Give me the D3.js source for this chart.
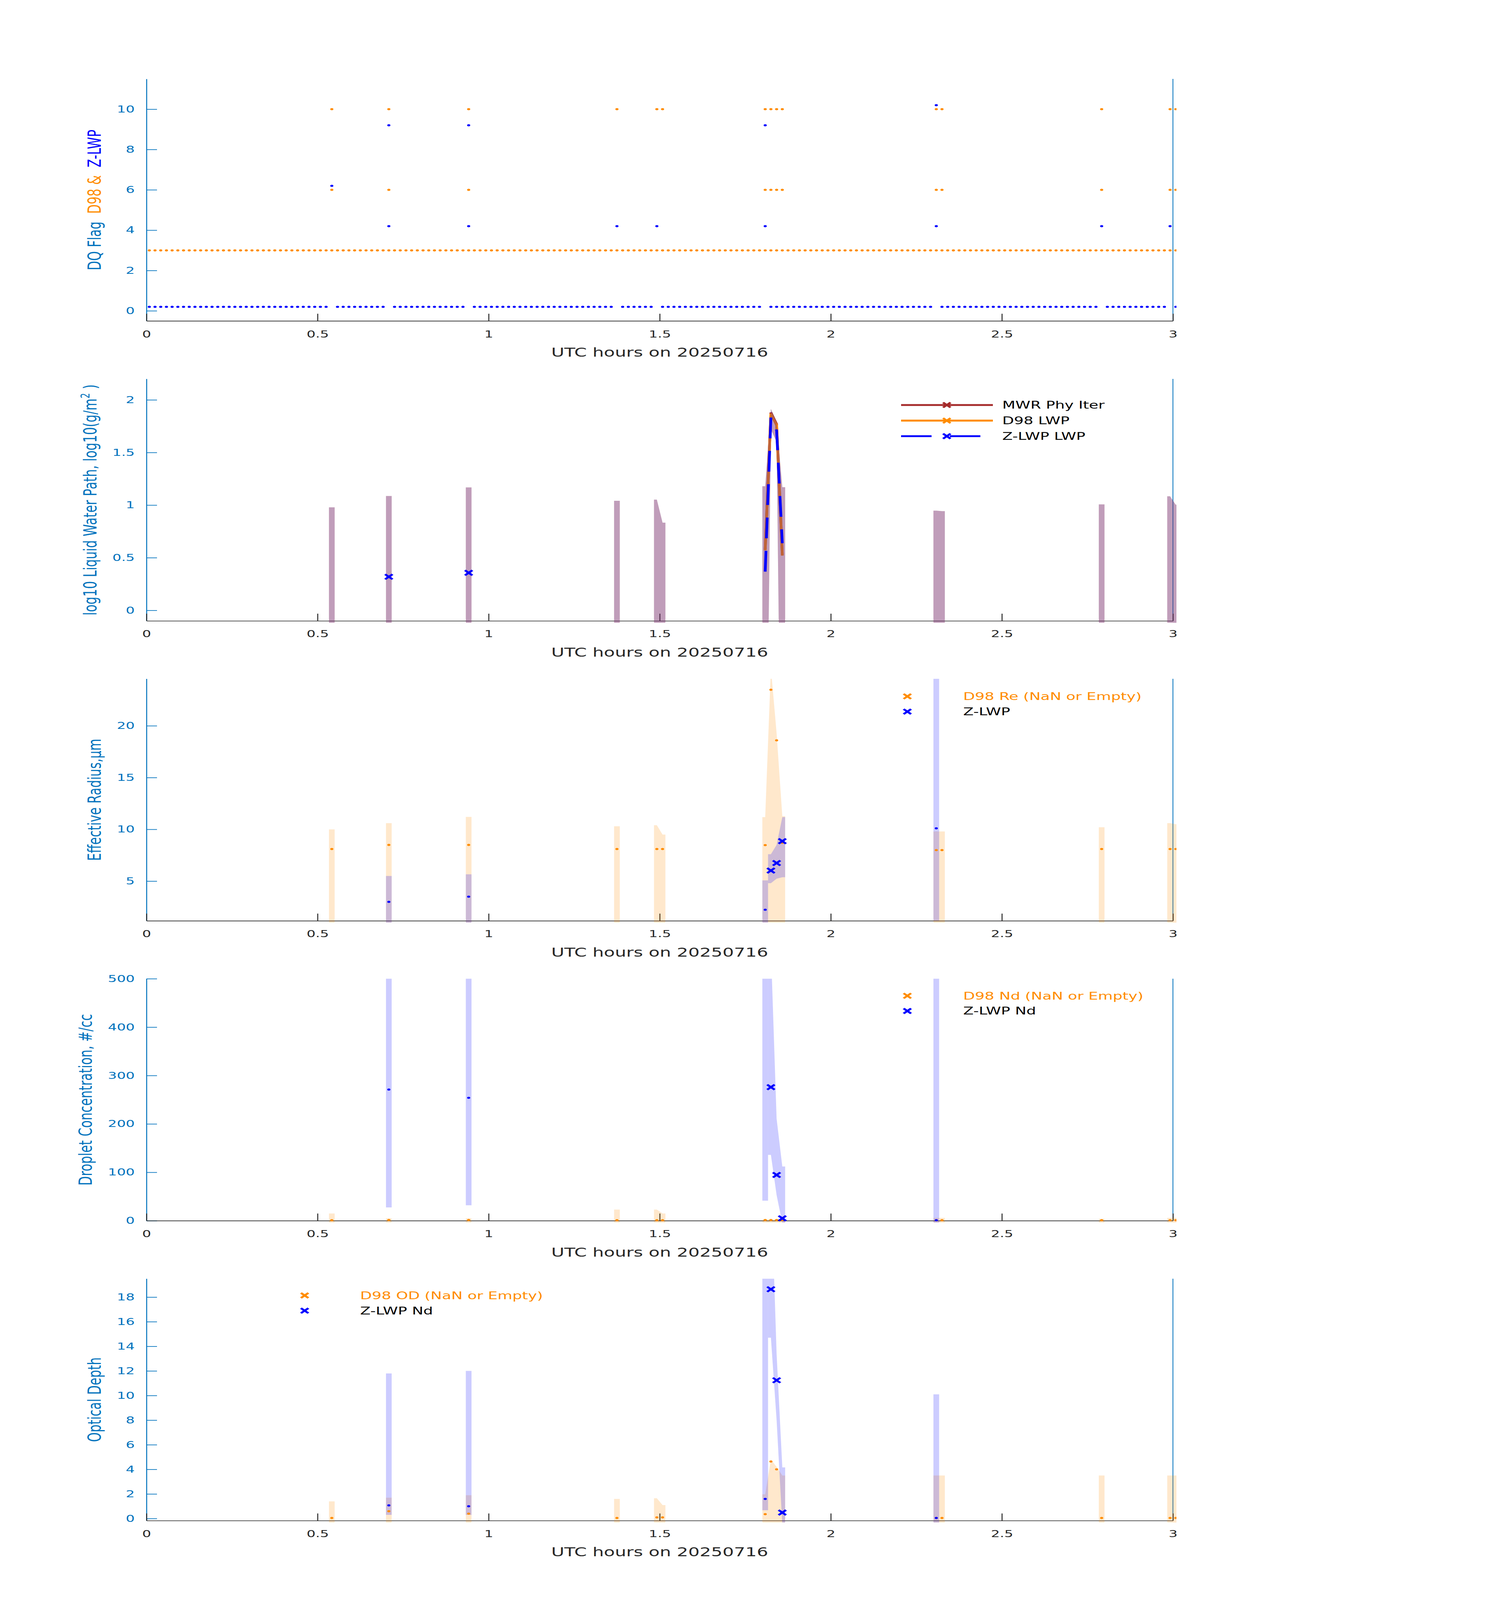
<!DOCTYPE html>
<html><head><meta charset="utf-8">
<script src="https://cdn.jsdelivr.net/npm/d3@7"></script>
<style>html,body{margin:0;padding:0;background:#fff;overflow:hidden;width:100%;height:100%}svg{display:block}</style>
</head><body>
<svg id="chart" viewBox="0 0 3825 6000" preserveAspectRatio="none" style="width:100vw;height:100vh" xmlns="http://www.w3.org/2000/svg"></svg>
<script>
// ================= DATA =================
// 1-minute samples (minutes after 00 UTC), centred on the half-minute
const sampleMinutes = d3.range(181).map(k => k + 0.5);

// Panel 1: data-quality flags
const zlwpFlag = [
  0,0,0,0,0,0,0,0,0,0,0,0,0,0,0,0,0,0,0,0,
  0,0,0,0,0,0,0,0,0,0,0,0,6,0,0,0,0,0,0,0,
  0,0,9,0,0,0,0,0,0,0,0,0,0,0,0,0,9,0,0,0,
  0,0,0,0,0,0,0,0,0,0,0,0,0,0,0,0,0,0,0,0,
  0,0,4,0,0,0,0,0,0,4,0,0,0,0,0,0,0,0,0,0,
  0,0,0,0,0,0,0,0,9,0,0,0,0,0,0,0,0,0,0,0,
  0,0,0,0,0,0,0,0,0,0,0,0,0,0,0,0,0,0,10,0,
  0,0,0,0,0,0,0,0,0,0,0,0,0,0,0,0,0,0,0,0,
  0,0,0,0,0,0,0,4,0,0,0,0,0,0,0,0,0,0,0,4,
  0];
const zlwpFlagExtra = [[42.5,4],[56.5,4],[108.5,4],[138.5,4]];
const d98Flag = [
  3,3,3,3,3,3,3,3,3,3,3,3,3,3,3,3,3,3,3,3,
  3,3,3,3,3,3,3,3,3,3,3,3,3,3,3,3,3,3,3,3,
  3,3,3,3,3,3,3,3,3,3,3,3,3,3,3,3,3,3,3,3,
  3,3,3,3,3,3,3,3,3,3,3,3,3,3,3,3,3,3,3,3,
  3,3,3,3,3,3,3,3,3,3,3,3,3,3,3,3,3,3,3,3,
  3,3,3,3,3,3,3,3,3,3,3,3,3,3,3,3,3,3,3,3,
  3,3,3,3,3,3,3,3,3,3,3,3,3,3,3,3,3,3,3,3,
  3,3,3,3,3,3,3,3,3,3,3,3,3,3,3,3,3,3,3,3,
  3,3,3,3,3,3,3,3,3,3,3,3,3,3,3,3,3,3,3,3,
  3];
const d98FlagExtra = [[32.5,10],[32.5,6],[42.5,10],[42.5,6],[56.5,10],[56.5,6],[82.5,10],
  [89.5,10],[90.5,10],[108.5,10],[108.5,6],[109.5,10],[109.5,6],[110.5,10],[110.5,6],
  [111.5,10],[111.5,6],[138.5,10],[138.5,6],[139.5,10],[139.5,6],[167.5,10],[167.5,6],
  [179.5,10],[179.5,6],[180.5,10],[180.5,6]];

// Retrieval times (minutes)
const d98Times      = [32.5, 42.5, 56.5, 82.5, 89.5, 90.5, 108.5, 109.5, 110.5, 111.5, 138.5, 139.5, 167.5, 179.5, 180.5];
const zFlaggedTimes = [42.5, 56.5, 108.5, 138.5];
const zGoodTimes    = [109.5, 110.5, 111.5];
const lwpLineTimes  = [108.5, 109.5, 110.5, 111.5];
const zLwpIsoTimes  = [42.5, 56.5];

// Panel 2: log10 LWP
const lwpBandHi = [0.979, 1.087, 1.168, 1.041, 1.052, 0.833, 1.18, 1.915, 1.79, 1.17, 0.948, 0.943, 1.007, 1.084, 1.003];
const lwpBandLo = [-3, -3, -3, -3, -3, -3, -3, 1.72, 1.6, -3, -3, -3, -3, -3, -3];
const mwrLwp = [0.58, 1.88, 1.77, 0.53];
const d98Lwp = [0.57, 1.87, 1.76, 0.52];
const zLwp   = [0.368, 1.833, 1.71, 0.638];
const zLwpIso = [0.319, 0.357];

// Panel 3: effective radius (um)
const reD98   = [8.1, 8.5, 8.5, 8.1, 8.1, 8.1, 8.48, 23.48, 18.6, 8.7, 8.0, 8.0, 8.1, 8.1, 8.1];
const reD98Hi = [10.0, 10.6, 11.2, 10.3, 10.4, 9.5, 11.19, 25.6, 19.3, 11.27, 9.8, 9.8, 10.2, 10.6, 10.5];
const reD98Lo = [0, 0, 0, 0, 0, 0, 0, 0, 0, 0, 0, 0, 0, 0, 0];
const reZFlag   = [3.0, 3.5, 2.24, 10.1];
const reZFlagHi = [5.5, 5.66, 5.07, 30];
const reZFlagLo = [0, 0, 0, 1.2];
const reZGood   = [6.02, 6.75, 8.86];
const reZGoodHi = [7.6, 8.5, 11.19];
const reZGoodLo = [4.8, 5.23, 5.38];

// Panel 4: droplet concentration (#/cc)
const ndD98   = [1, 1.5, 1.5, 1, 1, 1, 1.5, 1.5, 1.5, 1.5, 1, 1, 1, 1, 1];
const ndD98Hi = [15, 5, 5, 23, 23, 15, 3, 3, 3, 3, 6, 6, 4, 6, 6];
const ndD98Lo = [-5, -5, -5, -5, -5, -5, -5, -5, -5, -5, -5, -5, -5, -5, -5];
const ndZFlag   = [271, 254, null, 1];
const ndZFlagHi = [600, 600, 600, 600];
const ndZFlagLo = [27.5, 32, 41.5, -10];
const ndZGood   = [276, 94.6, 5];
const ndZGoodHi = [564, 211, 112];
const ndZGoodLo = [136, 53, -5];

// Panel 5: optical depth
const odD98   = [0.05, 0.6, 0.4, 0.05, 0.1, 0.1, 0.36, 4.64, 4.0, 0.5, 0.05, 0.05, 0.05, 0.05, 0.05];
const odD98Hi = [1.4, 1.7, 1.9, 1.6, 1.65, 1.1, 1.97, 4.8, 4.2, 3.5, 3.5, 3.5, 3.5, 3.5, 3.5];
const odD98Lo = [-1, -1, -1, -1, -1, -1, -1, -1, -1, -1, -1, -1, -1, -1, -1];
const odZFlag   = [1.07, 1.0, 1.6, 0.05];
const odZFlagHi = [11.8, 12.0, 25, 10.1];
const odZFlagLo = [0.3, 0.3, 0.68, -1];
const odZGood   = [18.64, 11.24, 0.49];
const odZGoodHi = [27.6, 13.4, 4.16];
const odZGoodLo = [14.7, 8.0, -0.5];

// Ticks
const xTicks    = [0, 0.5, 1, 1.5, 2, 2.5, 3];
const flagTicks = [0, 2, 4, 6, 8, 10];
const lwpTicks  = [0, 0.5, 1, 1.5, 2];
const reTicks   = [5, 10, 15, 20];
const ndTicks   = [0, 100, 200, 300, 400, 500];
const odTicks   = [0, 2, 4, 6, 8, 10, 12, 14, 16, 18];

// ================= STYLE / LAYOUT =================
const FONT = "'DejaVu Sans', sans-serif";
const AX_BLUE = '#0072BD', DARK = '#262626';
const ORANGE = '#FF8C00', BLUE = '#0000FF', BROWN = '#A52A2A';
const X0 = 375, X1 = 3003, PH = 907.5;
const panelTop = i => 296 + 1124.75 * i;
const XLABEL = 'UTC hours on 20250716';

const svg = d3.select('#chart');
svg.append('rect').attr('width', 3825).attr('height', 6000).attr('fill', '#fff');
const defs = svg.append('defs');

function makePanel(i, yDomain, ticks) {
  const top = panelTop(i), bottom = top + PH;
  const g = svg.append('g');
  const x = d3.scaleLinear().domain([0, 3]).range([X0, X1]);
  const y = d3.scaleLinear().domain(yDomain).range([bottom, top]);
  const id = 'clip' + i;
  defs.append('clipPath').attr('id', id).append('rect')
    .attr('x', X0).attr('y', top).attr('width', X1 - X0 + 9).attr('height', PH + 7);

  const ya = g.append('g').attr('transform', `translate(${X0},0)`)
    .call(d3.axisLeft(y).tickValues(ticks).tickFormat(d3.format('~g'))
      .tickSizeInner(-27).tickSizeOuter(0).tickPadding(30));
  ya.style('color', AX_BLUE).attr('font-size', 36).attr('font-family', FONT);
  ya.selectAll('path,line').attr('stroke-width', 2.5);

  g.append('line').attr('x1', X1).attr('x2', X1).attr('y1', top).attr('y2', bottom)
    .attr('stroke', AX_BLUE).attr('stroke-width', 2);

  const xa = g.append('g').attr('transform', `translate(0,${bottom})`)
    .call(d3.axisBottom(x).tickValues(xTicks).tickFormat(d3.format('~g'))
      .tickSizeInner(-27).tickSizeOuter(0).tickPadding(36));
  xa.style('color', DARK).attr('font-size', 36).attr('font-family', FONT);
  xa.selectAll('path,line').attr('stroke-width', 2.5);

  g.append('text').attr('x', (X0 + X1) / 2).attr('y', bottom + 134)
    .attr('text-anchor', 'middle').attr('font-family', FONT).attr('font-size', 46)
    .attr('fill', DARK).text(XLABEL);

  let maxW = 0;
  ya.selectAll('text').each(function () { maxW = Math.max(maxW, this.getBBox().width); });
  const labelX = X0 - 30 - maxW - 41;
  const ylab = g.append('text')
    .attr('transform', `translate(${labelX},${(top + bottom) / 2}) rotate(-90)`)
    .attr('text-anchor', 'middle').attr('font-family', FONT).attr('font-size', 46)
    .attr('fill', AX_BLUE);

  const plot = g.append('g').attr('clip-path', `url(#${id})`);
  return { g, x, y, plot, top, bottom, ylab };
}

function drawBand(plot, x, y, times, lo, hi, color) {
  const pts = times.map((t, i) => ({ t, lo: lo[i], hi: hi[i] }))
    .filter(d => d.lo != null && d.hi != null);
  const runs = [];
  pts.forEach((d, i) => {
    if (i > 0 && Math.abs(d.t - pts[i - 1].t - 1) < 1e-6) runs[runs.length - 1].push(d);
    else runs.push([d]);
  });
  const area = d3.area().x(d => x(d.t / 60)).y0(d => y(d.lo)).y1(d => y(d.hi));
  runs.forEach(run => {
    const f = run[0], l = run[run.length - 1];
    const verts = [{ ...f, t: f.t - 0.5 }, ...run, { ...l, t: l.t + 0.5 }];
    plot.append('path').attr('d', area(verts)).attr('fill', color).attr('fill-opacity', 0.2);
  });
}

function drawDots(plot, x, y, times, vals, color, offset = 0) {
  plot.append('g').selectAll('circle')
    .data(times.map((t, i) => ({ t, v: vals[i] })).filter(d => d.v != null))
    .join('circle')
    .attr('cx', d => x(d.t / 60)).attr('cy', d => y(d.v + offset)).attr('r', 4).attr('fill', color);
}

function xPath(cx, cy, s = 9.5) {
  return `M${cx - s},${cy - s}L${cx + s},${cy + s}M${cx - s},${cy + s}L${cx + s},${cy - s}`;
}
function drawX(plot, x, y, times, vals, color) {
  plot.append('g').selectAll('path')
    .data(times.map((t, i) => ({ t, v: vals[i] })).filter(d => d.v != null))
    .join('path')
    .attr('d', d => xPath(x(d.t / 60), y(d.v)))
    .attr('stroke', color).attr('stroke-width', 6.5).attr('fill', 'none');
}

function legendX(g, lx, ly, tx, items) {
  items.forEach((it, i) => {
    const yy = ly + i * 57;
    g.append('path').attr('d', xPath(lx, yy)).attr('stroke', it.color)
      .attr('stroke-width', 6.5).attr('fill', 'none');
    g.append('text').attr('x', tx).attr('y', yy).attr('dy', '0.35em')
      .attr('font-family', FONT).attr('font-size', 39).attr('fill', it.textColor).text(it.label);
  });
}

// ================= PANEL 1 =================
{
  const p = makePanel(0, [-0.5, 11.5], flagTicks);
  p.ylab.append('tspan').attr('fill', AX_BLUE).text('DQ Flag\u00A0\u00A0');
  p.ylab.append('tspan').attr('fill', ORANGE).text('D98 &\u00A0\u00A0');
  p.ylab.append('tspan').attr('fill', BLUE).text('Z-LWP');
  drawDots(p.plot, p.x, p.y, sampleMinutes, d98Flag, ORANGE);
  drawDots(p.plot, p.x, p.y, d98FlagExtra.map(d => d[0]), d98FlagExtra.map(d => d[1]), ORANGE);
  drawDots(p.plot, p.x, p.y, sampleMinutes, zlwpFlag, BLUE, 0.2);
  drawDots(p.plot, p.x, p.y, zlwpFlagExtra.map(d => d[0]), zlwpFlagExtra.map(d => d[1]), BLUE, 0.2);
}

// ================= PANEL 2 =================
{
  const p = makePanel(1, [-0.1, 2.2], lwpTicks);
  p.ylab.append('tspan').text('log10 Liquid Water Path, log10(g/m');
  p.ylab.append('tspan').attr('font-size', 32).attr('dy', -18).text('2');
  p.ylab.append('tspan').attr('dy', 18).text('\u00A0)');
  const line = d3.line().x((d, i) => p.x(lwpLineTimes[i] / 60)).y(d => p.y(d));
  p.plot.append('path').attr('d', line(mwrLwp)).attr('stroke', BROWN).attr('stroke-width', 7).attr('fill', 'none');
  p.plot.append('path').attr('d', line(d98Lwp)).attr('stroke', ORANGE).attr('stroke-width', 7).attr('fill', 'none');
  drawBand(p.plot, p.x, p.y, d98Times, lwpBandLo, lwpBandHi, BROWN);
  drawBand(p.plot, p.x, p.y, d98Times, lwpBandLo, lwpBandHi, ORANGE);
  drawBand(p.plot, p.x, p.y, d98Times, lwpBandLo, lwpBandHi, BLUE);
  p.plot.append('path').attr('d', line(zLwp)).attr('stroke', BLUE).attr('stroke-width', 7)
    .attr('stroke-dasharray', '78,47').attr('fill', 'none');
  drawX(p.plot, p.x, p.y, zLwpIsoTimes, zLwpIso, BLUE);

  // legend
  const items = [
    { label: 'MWR Phy Iter', color: BROWN, dash: null },
    { label: 'D98 LWP', color: ORANGE, dash: null },
    { label: 'Z-LWP LWP', color: BLUE, dash: '78,47' }];
  items.forEach((it, i) => {
    const yy = p.top + 98 + i * 58.5;
    const ln = p.g.append('line').attr('x1', 2307).attr('x2', 2542).attr('y1', yy).attr('y2', yy)
      .attr('stroke', it.color).attr('stroke-width', 7);
    if (it.dash) ln.attr('stroke-dasharray', it.dash);
    p.g.append('path').attr('d', xPath(2424, yy)).attr('stroke', it.color)
      .attr('stroke-width', 6.5).attr('fill', 'none');
    p.g.append('text').attr('x', 2566).attr('y', yy).attr('dy', '0.35em')
      .attr('font-family', FONT).attr('font-size', 39).attr('fill', '#000').text(it.label);
  });
}

// ================= PANEL 3 =================
{
  const p = makePanel(2, [1.17, 24.54], reTicks);
  p.ylab.text('Effective Radius,\u03BCm');
  drawBand(p.plot, p.x, p.y, d98Times, reD98Lo, reD98Hi, ORANGE);
  drawBand(p.plot, p.x, p.y, zFlaggedTimes, reZFlagLo, reZFlagHi, BLUE);
  drawBand(p.plot, p.x, p.y, zGoodTimes, reZGoodLo, reZGoodHi, BLUE);
  drawDots(p.plot, p.x, p.y, d98Times, reD98, ORANGE);
  drawDots(p.plot, p.x, p.y, zFlaggedTimes, reZFlag, BLUE);
  drawX(p.plot, p.x, p.y, zGoodTimes, reZGood, BLUE);
  legendX(p.g, 2323, p.top + 66, 2466, [
    { label: 'D98 Re (NaN or Empty)', color: ORANGE, textColor: ORANGE },
    { label: 'Z-LWP', color: BLUE, textColor: '#000' }]);
}

// ================= PANEL 4 =================
{
  const p = makePanel(3, [0, 500], ndTicks);
  p.ylab.text('Droplet Concentration, #/cc');
  drawBand(p.plot, p.x, p.y, d98Times, ndD98Lo, ndD98Hi, ORANGE);
  drawBand(p.plot, p.x, p.y, zFlaggedTimes, ndZFlagLo, ndZFlagHi, BLUE);
  drawBand(p.plot, p.x, p.y, zGoodTimes, ndZGoodLo, ndZGoodHi, BLUE);
  drawDots(p.plot, p.x, p.y, d98Times, ndD98, ORANGE);
  drawDots(p.plot, p.x, p.y, zFlaggedTimes, ndZFlag, BLUE);
  drawX(p.plot, p.x, p.y, zGoodTimes, ndZGood, BLUE);
  legendX(p.g, 2323, p.top + 64, 2466, [
    { label: 'D98 Nd (NaN or Empty)', color: ORANGE, textColor: ORANGE },
    { label: 'Z-LWP Nd', color: BLUE, textColor: '#000' }]);
}

// ================= PANEL 5 =================
{
  const p = makePanel(4, [-0.17, 19.5], odTicks);
  p.ylab.text('Optical Depth');
  drawBand(p.plot, p.x, p.y, d98Times, odD98Lo, odD98Hi, ORANGE);
  drawBand(p.plot, p.x, p.y, zFlaggedTimes, odZFlagLo, odZFlagHi, BLUE);
  drawBand(p.plot, p.x, p.y, zGoodTimes, odZGoodLo, odZGoodHi, BLUE);
  drawDots(p.plot, p.x, p.y, d98Times, odD98, ORANGE);
  drawDots(p.plot, p.x, p.y, zFlaggedTimes, odZFlag, BLUE);
  drawX(p.plot, p.x, p.y, zGoodTimes, odZGood, BLUE);
  legendX(p.g, 780, p.top + 63, 922, [
    { label: 'D98 OD (NaN or Empty)', color: ORANGE, textColor: ORANGE },
    { label: 'Z-LWP Nd', color: BLUE, textColor: '#000' }]);
}
</script>
</body></html>
